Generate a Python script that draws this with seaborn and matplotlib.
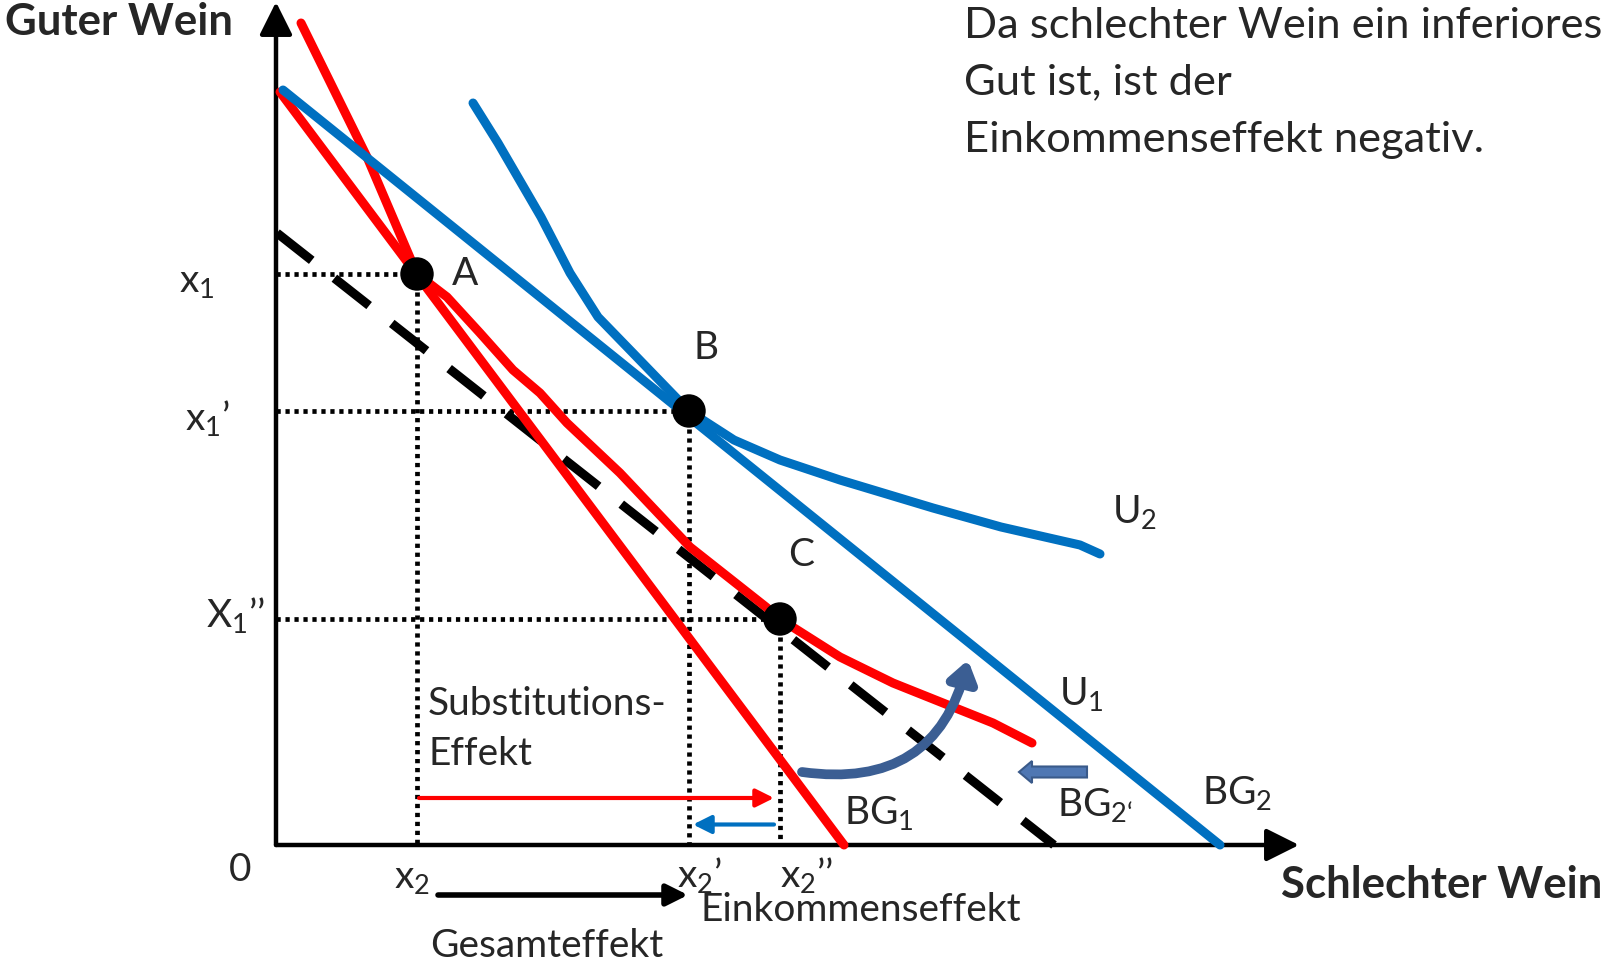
import matplotlib
matplotlib.use("Agg")
import matplotlib.pyplot as plt
import seaborn as sns
import pandas as pd

# Budgetgeraden (Einheiten: Mengen, Ursprung = 0)
bg1_x = [0.04, 5.68]
bg1_y = [7.53, 0.0]
bg2_x = [0.07, 9.44]
bg2_y = [7.55, 0.0]
bg2s_x = [0.01, 7.78]
bg2s_y = [6.12, 0.0]

# Indifferenzkurven
u1_x = [0.25, 0.91, 1.41, 1.71, 2.04, 2.37, 2.64, 2.91, 3.44, 4.14, 4.90, 5.04, 5.64, 6.17, 7.17, 7.56]
u1_y = [8.22, 6.88, 5.71, 5.48, 5.12, 4.75, 4.52, 4.22, 3.72, 2.98, 2.38, 2.26, 1.88, 1.62, 1.22, 1.02]
u2_x = [1.97, 2.22, 2.65, 2.94, 3.22, 3.54, 4.13, 4.58, 5.04, 5.64, 6.57, 7.25, 8.04, 8.24]
u2_y = [7.42, 7.02, 6.28, 5.72, 5.28, 4.95, 4.34, 4.05, 3.85, 3.65, 3.37, 3.18, 3.00, 2.91]

pt_names = ["A", "B", "C"]
pt_x = [1.41, 4.13, 5.04]
pt_y = [5.71, 4.34, 2.26]

info_lines = ["Da schlechter Wein ein inferiores", "Gut ist, ist der", "Einkommenseffekt negativ."]

plt.rcParams["mathtext.fontset"] = "custom"
plt.rcParams["mathtext.rm"] = "Lato"
plt.rcParams["mathtext.default"] = "regular"
sns.set_style("white")
plt.rcParams["font.family"] = ["Lato", "DejaVu Sans"]

fig = plt.figure(figsize=(16.04, 9.66), dpi=100)
ax = fig.add_axes([0, 0, 1, 1])
ax.set_xlim(-2.76, 13.28)
ax.set_ylim(-1.21, 8.45)
ax.axis("off")

RED = "#ff0000"
BLUE = "#0070c0"
lw = 6.5
head = "-|>,head_length=0.4,head_width=0.2"

# Achsen
ax.annotate("", xy=(0, 8.43), xytext=(0, 0),
            arrowprops=dict(arrowstyle=head, lw=3.2, color="black", mutation_scale=50, shrinkA=0, shrinkB=0))
ax.annotate("", xy=(10.23, 0), xytext=(0, 0),
            arrowprops=dict(arrowstyle=head, lw=3.2, color="black", mutation_scale=50, shrinkA=0, shrinkB=0))

# Hilfslinien (gepunktet)
for x, y in zip(pt_x, pt_y):
    ax.plot([0, x], [y, y], color="black", lw=3.4, linestyle=(0, (0.9, 1.0)), zorder=2)
    ax.plot([x, x], [y, 0], color="black", lw=3.4, linestyle=(0, (0.9, 1.0)), zorder=2)

# Budgetgeraden und Indifferenzkurven
sns.lineplot(x=bg2s_x, y=bg2s_y, ax=ax, color="black", lw=lw, linestyle=(0, (4.9, 3.19)), zorder=3)
sns.lineplot(x=bg1_x, y=bg1_y, ax=ax, color=RED, lw=lw, solid_capstyle="round", zorder=3)
sns.lineplot(x=u1_x, y=u1_y, ax=ax, color=RED, lw=lw, solid_capstyle="round", zorder=3)
sns.lineplot(x=bg2_x, y=bg2_y, ax=ax, color=BLUE, lw=lw, solid_capstyle="round", zorder=4)
sns.lineplot(x=u2_x, y=u2_y, ax=ax, color=BLUE, lw=lw, solid_capstyle="round", zorder=4)

pts = pd.DataFrame({"x": pt_x, "y": pt_y, "name": pt_names})
sns.scatterplot(data=pts, x="x", y="y", ax=ax, color="black", s=580, edgecolor="none", zorder=6)

fs = 28
txt = dict(fontsize=fs, va="center")
# Punktbeschriftungen
ax.text(1.89, 5.71, "A", ha="center", **txt)
ax.text(4.30, 4.97, "B", ha="center", **txt)
ax.text(5.25, 2.90, "C", ha="center", **txt)

# Achsenbeschriftungen
ax.text(-0.79, 5.63, "x$_1$", ha="center", **txt)
ax.text(-0.68, 4.27, "x$_1$’", ha="center", **txt)
ax.text(-0.40, 2.30, "X$_1$’’", ha="center", **txt)
ax.text(-0.36, -0.25, "0", ha="center", **txt)
ax.text(1.36, -0.33, "x$_2$", ha="center", **txt)
ax.text(4.24, -0.30, "x$_2$’", ha="center", **txt)
ax.text(5.31, -0.30, "x$_2$’’", ha="center", **txt)

ax.text(8.36, 3.33, "U$_2$", ha="left", **txt)
ax.text(7.83, 1.51, "U$_1$", ha="left", **txt)
ax.text(5.68, 0.32, "BG$_1$", ha="left", **txt)
ax.text(7.81, 0.40, "BG$_{2‘}$", ha="left", **txt)
ax.text(9.26, 0.52, "BG$_2$", ha="left", **txt)

ax.text(1.52, 1.41, "Substitutions-", ha="left", **txt)
ax.text(1.52, 0.91, "Effekt", ha="left", **txt)
ax.text(4.25, -0.65, "Einkommenseffekt", ha="left", **txt)
ax.text(1.54, -1.01, "Gesamteffekt", ha="left", **txt)

ax.text(-2.71, 8.23, "Guter Wein", ha="left", fontsize=31.5, fontweight="bold", va="center")
ax.text(13.26, -0.40, "Schlechter Wein", ha="right", fontsize=31.5, fontweight="bold", va="center")

for yy, line in zip([8.19, 7.63, 7.05], info_lines):
    ax.text(6.88, yy, line, ha="left", va="center", fontsize=31.3)

# Effekt-Pfeile
ax.annotate("", xy=(4.98, 0.47), xytext=(1.43, 0.47),
            arrowprops=dict(arrowstyle=head, lw=3, color=RED, mutation_scale=27, shrinkA=0, shrinkB=0))
ax.annotate("", xy=(4.17, 0.205), xytext=(4.98, 0.205),
            arrowprops=dict(arrowstyle=head, lw=3, color=BLUE, mutation_scale=27, shrinkA=0, shrinkB=0))
ax.annotate("", xy=(4.12, -0.50), xytext=(1.62, -0.50),
            arrowprops=dict(arrowstyle=head, lw=4, color="black", mutation_scale=32, shrinkA=0, shrinkB=0))

# Verschiebung der Budgetgeraden
ax.arrow(8.11, 0.73, -0.55, 0, width=0.11, head_width=0.22, head_length=0.13,
         length_includes_head=False, fc="#4f77b3", ec="#3a5a8a", lw=1.5, zorder=5)
ax.annotate("", xy=(6.92, 1.85), xytext=(5.26, 0.73),
            arrowprops=dict(arrowstyle="-|>,head_length=0.5,head_width=0.35", lw=7, color="#3b5e93",
                            mutation_scale=24, shrinkA=0, shrinkB=0,
                            connectionstyle="arc3,rad=0.45"), zorder=5)

fig.savefig("out.png", dpi=100)
